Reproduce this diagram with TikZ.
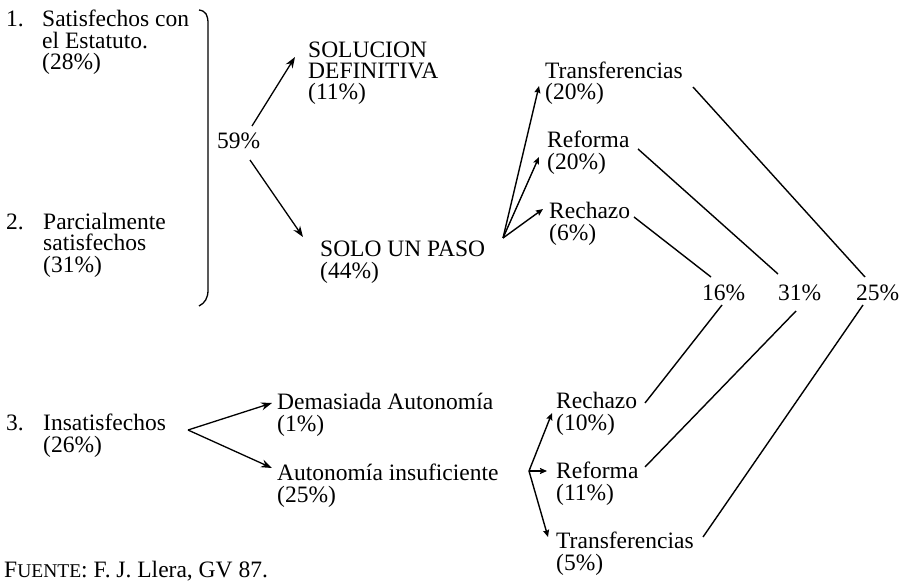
\documentclass[tikz,border=0pt]{standalone}
\usepackage{fontspec}
\setmainfont{Liberation Serif}
\usetikzlibrary{arrows.meta}
\begin{document}
\begin{tikzpicture}[x=1pt,y=-1pt,
  txt/.style={anchor=base west,inner sep=0pt,align=left,font=\fontsize{23.5}{21.5}\selectfont},
  big/.style={-{Stealth[length=11pt,width=8pt]},line width=1.3pt},
  small/.style={-{Stealth[length=7pt,width=6pt,inset=1pt]},line width=1.4pt},
  ln/.style={line width=1.4pt}]
\useasboundingbox (0,0) rectangle (907,583);
% text nodes (positions give the baseline of the last line)
\node[txt] (num1) at (6,27) {1.};
\node[txt] (t1) at (42,70) {Satisfechos con\\el Estatuto.\\(28\%)};
\node[txt] (num2) at (6,229) {2.};
\node[txt] (t2) at (43,272) {Parcialmente\\satisfechos\\(31\%)};
\node[txt] (p59) at (217,148) {59\%};
\node[txt] (sol) at (308,100) {SOLUCION\\DEFINITIVA\\(11\%)};
\node[txt] (paso) at (320,278) {SOLO UN PASO\\(44\%)};
\node[txt] (tr1) at (545,100) {Transferencias\\(20\%)};
\node[txt] (rf1) at (547,169) {Reforma\\(20\%)};
\node[txt] (rc1) at (549,240) {Rechazo\\(6\%)};
\node[txt] (p16) at (702,300) {16\%};
\node[txt] (p31) at (778,300) {31\%};
\node[txt] (p25) at (856,300) {25\%};
\node[txt] (num3) at (6,430) {3.};
\node[txt] (t3) at (43,452) {Insatisfechos\\(26\%)};
\node[txt] (dem) at (277,431) {Demasiada Autonomía\\(1\%)};
\node[txt] (ins) at (277,502) {Autonomía insuficiente\\(25\%)};
\node[txt] (rc2) at (556,430) {Rechazo\\(10\%)};
\node[txt] (rf2) at (556,500) {Reforma\\(11\%)};
\node[txt] (tr2) at (556,570) {Transferencias\\(5\%)};
\node[txt] (src) at (4,577) {F{\fontsize{19.5}{19.5}\selectfont UENTE}: F. J. Llera, GV 87.};
% brace
\draw[line width=1.3pt] (199,10) .. controls (206,11) and (208,15) .. (208,24) -- (208,290) .. controls (208,298) and (205,303) .. (199,306);
% connector coordinates
\coordinate (c59a) at (252,126);
\coordinate (c59b) at (250,160);
\coordinate (csol) at (295,57);
\coordinate (cpaso) at (303,237);
\coordinate (fan1) at (503,238);
\coordinate (etr1) at (539,86);
\coordinate (erf1) at (539,157);
\coordinate (erc1) at (543,209);
\coordinate (orc1) at (634,217);
\coordinate (orf1) at (638,149);
\coordinate (otr1) at (693,87);
\coordinate (u16) at (711,277);
\coordinate (u31) at (778,274);
\coordinate (u25) at (865,277);
\coordinate (d16) at (722,305);
\coordinate (d31) at (796,311);
\coordinate (d25) at (863,305);
\coordinate (fan3) at (188,430);
\coordinate (edem) at (272,403);
\coordinate (eins) at (272,468);
\coordinate (fan4) at (529,471);
\coordinate (erc2) at (552,413);
\coordinate (erf2) at (547,471);
\coordinate (etr2) at (548,537);
\coordinate (orc2) at (645,403);
\coordinate (orf2) at (645,467);
\coordinate (otr2) at (703,537);
% arrows
\draw[big] (c59a) -- (csol);
\draw[big] (c59b) -- (cpaso);
\draw[small] (fan1) -- (etr1);
\draw[small] (fan1) -- (erf1);
\draw[small] (fan1) -- (erc1);
\draw[ln] (orc1) -- (u16);
\draw[ln] (orf1) -- (u31);
\draw[ln] (otr1) -- (u25);
\draw[ln] (orc2) -- (d16);
\draw[ln] (orf2) -- (d31);
\draw[ln] (otr2) -- (d25);
\draw[big] (fan3) -- (edem);
\draw[big] (fan3) -- (eins);
\draw[small] (fan4) -- (erc2);
\draw[small] (fan4) -- (erf2);
\draw[small] (fan4) -- (etr2);
\end{tikzpicture}
\end{document}
